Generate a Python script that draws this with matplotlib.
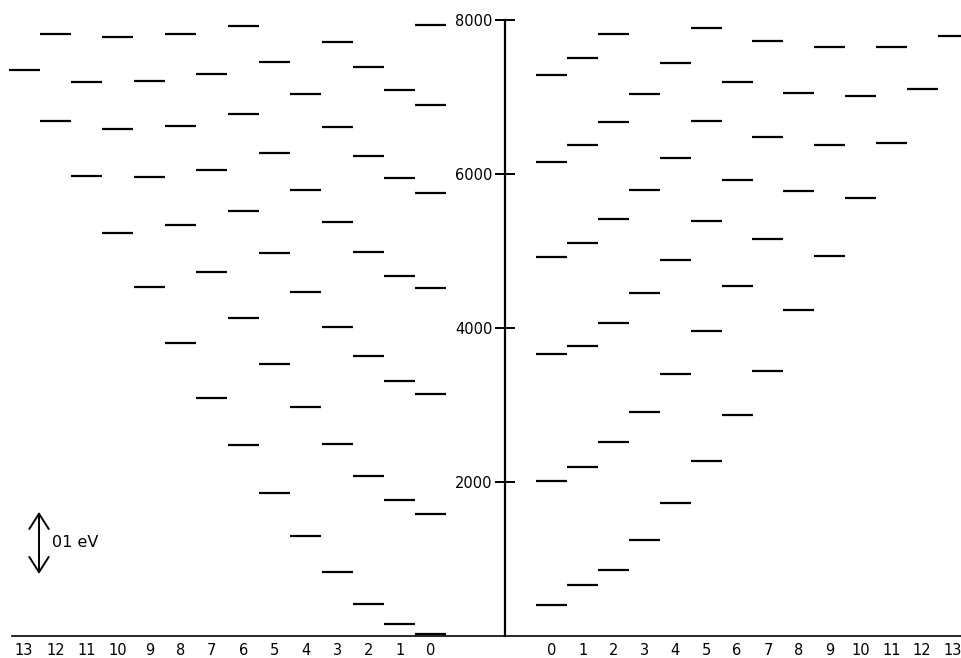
import matplotlib
matplotlib.use("Agg")
import matplotlib.pyplot as plt

# Energy levels (cm^-1) per column index (0..13)
left_cols = list(range(14))
left_levels = [
    [20, 1584, 3143, 4515, 5749, 6900, 7940],        # 0
    [152, 1771, 3312, 4679, 5952, 7091],              # 1
    [420, 2082, 3632, 4991, 6238, 7390],              # 2
    [826, 2489, 4009, 5381, 6614, 7714],              # 3
    [1303, 2978, 4468, 5792, 7035],                   # 4
    [1862, 3528, 4970, 6273, 7459],                   # 5
    [2481, 4126, 5515, 6779, 7922],                   # 6
    [3095, 4723, 6056, 7299],                         # 7
    [3801, 5338, 6623, 7822],                         # 8
    [4532, 5961, 7212],                               # 9
    [5229, 6580, 7784],                               # 10
    [5974, 7199],                                     # 11
    [6684, 7818],                                     # 12
    [7351],                                           # 13
]

right_cols = list(range(14))
right_levels = [
    [403, 2013, 3658, 4918, 6152, 7286],              # 0
    [666, 2195, 3762, 5100, 6381, 7506],              # 1
    [857, 2515, 4061, 5411, 6675, 7822],              # 2
    [1247, 2913, 4450, 5796, 7035],                   # 3
    [1732, 3407, 4887, 6208, 7446],                   # 4
    [2277, 3965, 5390, 6684, 7892],                   # 5
    [2874, 4545, 5922, 7190],                         # 6
    [3446, 5160, 6484, 7727],                         # 7
    [4230, 5775, 7056],                               # 8
    [4939, 6381, 7645],                               # 9
    [5688, 7013],                                     # 10
    [6398, 7645],                                     # 11
    [7108],                                           # 12
    [7796],                                           # 13
]

y_ticks = [2000, 4000, 6000, 8000]
scale_label = "01 eV"
scale_ev_cm = 806.5  # 0.1 eV in cm^-1

fig = plt.figure(figsize=(9.62, 6.58), dpi=100)
ax = fig.add_axes([0, 0, 1, 1])
ax.set_xlim(0, 962)
ax.set_ylim(-286, 8260)

# column layout (horizontal placement)
axis_x = 505
def left_x(n):
    return 431 - 31.3 * n
def right_x(n):
    return 552 + 30.85 * n
hw = 15.5

for n, levs in zip(left_cols, left_levels):
    cx = left_x(n)
    for e in levs:
        ax.plot([cx - hw, cx + hw], [e, e], color="black", lw=1.6,
                solid_capstyle="butt")
for n, levs in zip(right_cols, right_levels):
    cx = right_x(n)
    for e in levs:
        ax.plot([cx - hw, cx + hw], [e, e], color="black", lw=1.6,
                solid_capstyle="butt")

# spines
for s in ["top", "right"]:
    ax.spines[s].set_visible(False)
ax.spines["left"].set_position(("data", axis_x))
ax.spines["left"].set_bounds(0, 8000)
ax.spines["left"].set_linewidth(1.6)
ax.spines["bottom"].set_position(("data", 0))
ax.spines["bottom"].set_bounds(12, 962)
ax.spines["bottom"].set_linewidth(1.2)

ax.set_yticks(y_ticks)
ax.set_yticklabels([str(t) for t in y_ticks])
ax.tick_params(axis="y", direction="inout", length=14, width=1.4,
               labelsize=10.5, pad=2)

xt = [left_x(n) for n in left_cols] + [right_x(n) for n in right_cols]
xl = [str(n) for n in left_cols] + [str(n) for n in right_cols]
ax.set_xticks(xt)
ax.set_xticklabels(xl)
ax.tick_params(axis="x", length=0, labelsize=10.5, pad=5)

# 0.1 eV scale arrow
y0 = 805
ax.annotate("", xy=(39, y0 + scale_ev_cm), xytext=(39, y0),
            arrowprops=dict(arrowstyle="<->,head_length=1.1,head_width=0.7",
                            color="black", lw=1.4, shrinkA=0, shrinkB=0))
ax.text(52, y0 + scale_ev_cm / 2, scale_label, fontsize=11.5, va="center",
        ha="left")

fig.savefig("out.png", dpi=100)
